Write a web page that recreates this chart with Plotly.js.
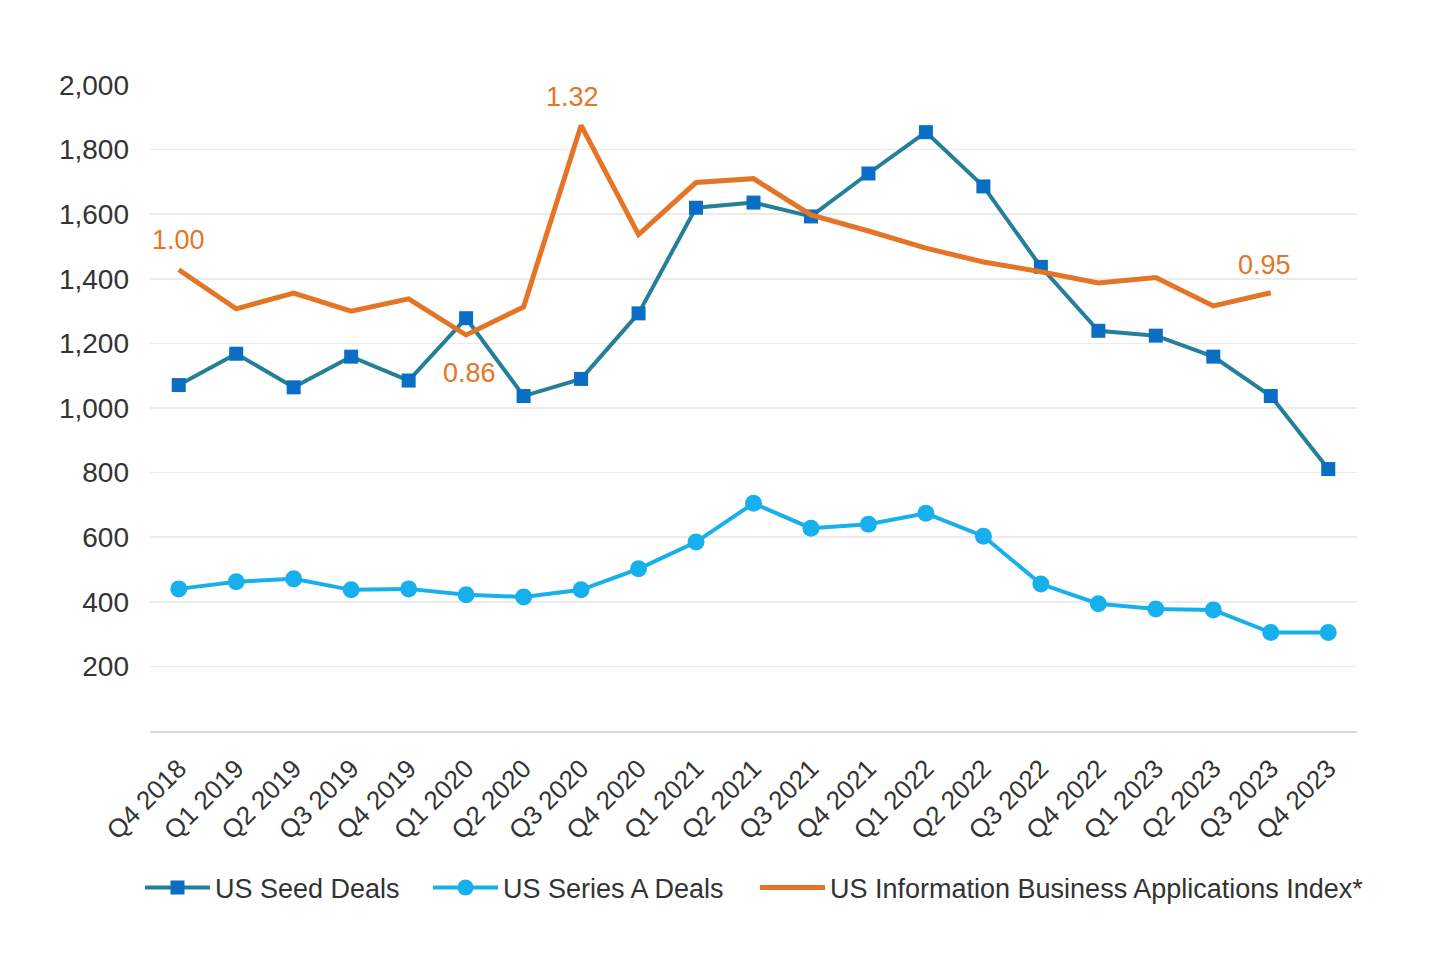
<!DOCTYPE html>
<html>
<head>
<meta charset="utf-8">
<script src="https://cdn.plot.ly/plotly-3.0.1.min.js"></script>
<style>html,body{margin:0;padding:0;background:#fff;}#chart{width:1440px;height:956px;}</style>
</head>
<body>
<div id="chart"></div>
<script>
const quarters = ['Q4 2018','Q1 2019','Q2 2019','Q3 2019','Q4 2019','Q1 2020','Q2 2020','Q3 2020','Q4 2020','Q1 2021','Q2 2021','Q3 2021','Q4 2021','Q1 2022','Q2 2022','Q3 2022','Q4 2022','Q1 2023','Q2 2023','Q3 2023','Q4 2023'];
const seedDeals = [1071,1168,1064,1159,1085,1278,1037,1090,1293,1620,1636,1593,1726,1854,1686,1437,1239,1224,1159,1037,811];
const seriesADeals = [440,462,471,437,440,422,415,437,502,585,705,628,640,674,603,455,394,378,375,305,305];
const infoIndex = [1428,1307,1356,1300,1338,1226,1313,1875,1537,1698,1710,1598,1548,1495,1452,1422,1387,1404,1316,1357,null];
const indexLabelQuarters = ['Q4 2018','Q1 2020','Q3 2020','Q3 2023'];
const indexLabelTexts = ['1.00','0.86','1.32','0.95'];
const yTicks = [200,400,600,800,1000,1200,1400,1600,1800,2000];

const FONT = '"Liberation Sans", Arial, Helvetica, sans-serif';
const ORANGE = '#E57526';

// label placement (style only)
const labelShift = {
  'Q4 2018': {xs: 0, ys: 30},
  'Q1 2020': {xs: 3, ys: -38},
  'Q3 2020': {xs: -9, ys: 28},
  'Q3 2023': {xs: -6, ys: 28}
};

const traces = [
  {
    x: quarters, y: seedDeals, name: 'US Seed Deals', type: 'scatter', mode: 'lines+markers',
    line: {color: '#247F98', width: 4},
    marker: {symbol: 'square', size: 14, color: '#0B6EC5'},
    legend: 'legend'
  },
  {
    x: quarters, y: seriesADeals, name: 'US Series A Deals', type: 'scatter', mode: 'lines+markers',
    line: {color: '#17B0EC', width: 4},
    marker: {symbol: 'circle', size: 17, color: '#17B0EC'},
    legend: 'legend2'
  },
  {
    x: quarters, y: infoIndex, name: 'US Information Business Applications Index*', type: 'scatter', mode: 'lines',
    line: {color: ORANGE, width: 5},
    legend: 'legend3'
  }
];

const annotations = indexLabelQuarters.map((q, i) => ({
  x: q, y: infoIndex[quarters.indexOf(q)], xref: 'x', yref: 'y',
  text: indexLabelTexts[i], showarrow: false,
  xanchor: 'center', yanchor: 'middle',
  xshift: labelShift[q].xs, yshift: labelShift[q].ys,
  font: {family: FONT, size: 27, color: ORANGE}
}));

const legendBase = {
  orientation: 'h', y: -0.243, yanchor: 'middle', xanchor: 'left',
  font: {family: FONT, size: 27, color: '#333333'},
  itemwidth: 65, bgcolor: 'rgba(0,0,0,0)'
};

const layout = {
  width: 1440, height: 956,
  margin: {l: 150, r: 83, t: 85, b: 225},
  paper_bgcolor: '#ffffff', plot_bgcolor: '#ffffff',
  font: {family: FONT, size: 27, color: '#333333'},
  showlegend: true,
  legend: Object.assign({}, legendBase, {x: (140 - 150) / 1207}),
  legend2: Object.assign({}, legendBase, {x: (428 - 150) / 1207}),
  legend3: Object.assign({}, legendBase, {x: (755 - 150) / 1207}),
  annotations: annotations,
  xaxis: {
    type: 'category', range: [-0.5, 20.5],
    showgrid: false, zeroline: false,
    showline: true, linecolor: '#d9d9d9', linewidth: 2,
    ticks: '', tickangle: -45, ticklabelstandoff: 10,
    tickfont: {family: FONT, size: 26, color: '#333333'}
  },
  yaxis: {
    range: [0, 2000], tickvals: yTicks, tickformat: ',',
    showgrid: true, gridcolor: '#ebebeb', gridwidth: 1.5,
    zeroline: false, showline: false, ticks: '', ticklabelstandoff: 20,
    tickfont: {family: FONT, size: 28, color: '#333333'}
  }
};

Plotly.newPlot('chart', traces, layout, {displayModeBar: false, staticPlot: true});
</script>
</body>
</html>
